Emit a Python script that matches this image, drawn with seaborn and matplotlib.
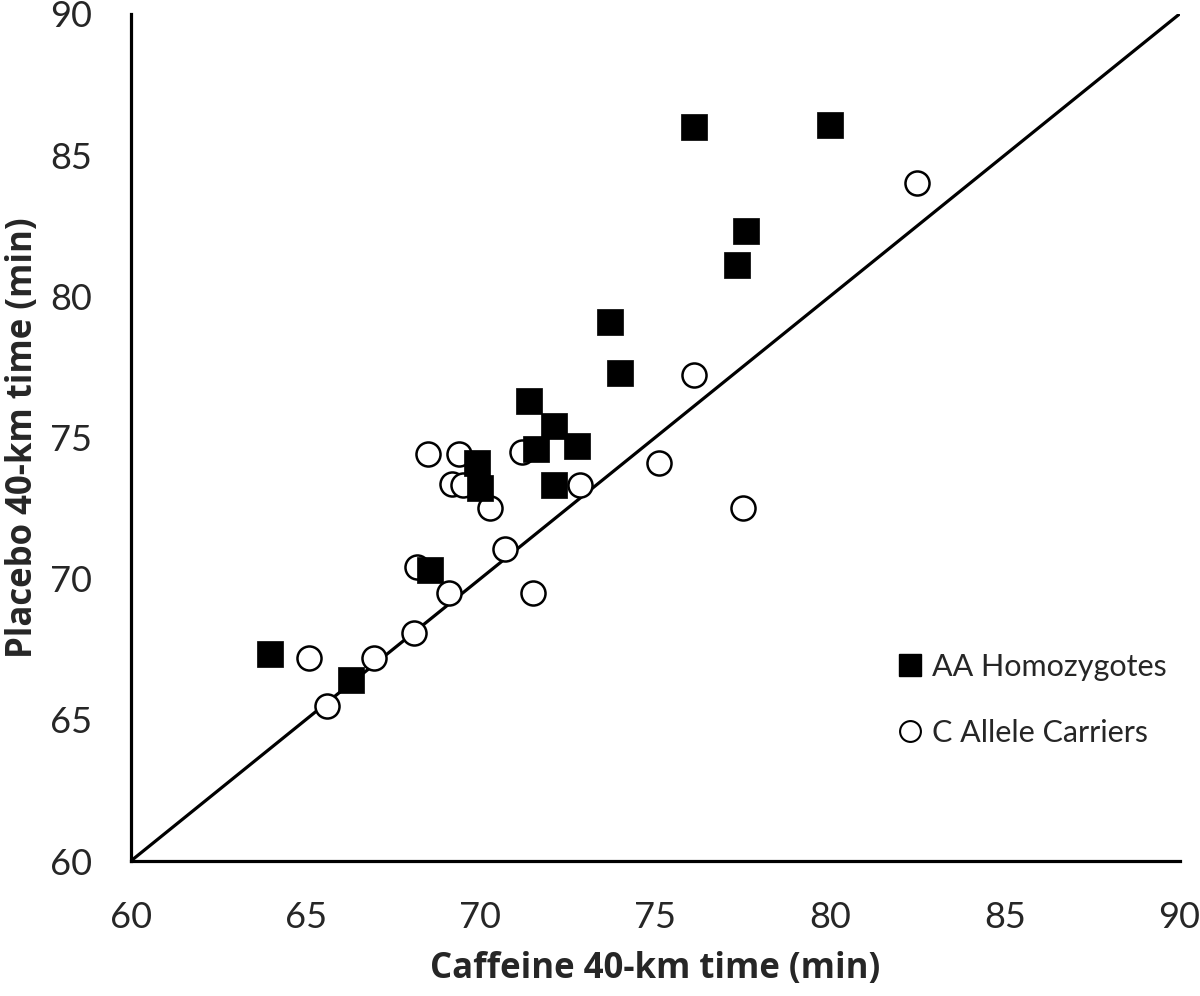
import matplotlib
matplotlib.use("Agg")
import matplotlib.pyplot as plt
import seaborn as sns
import pandas as pd
from matplotlib.lines import Line2D

# AA Homozygotes (filled squares)
aa_caffeine = [63.97, 66.3, 68.55, 69.9, 70.0, 71.4, 72.1, 71.6, 72.75, 72.1,
               74.0, 76.1, 80.0, 77.6, 77.35, 73.7]
aa_placebo = [67.33, 66.4, 70.3, 74.1, 73.2, 76.3, 75.4, 74.6, 74.7, 73.3,
              77.3, 86.0, 86.07, 82.3, 81.1, 79.1]

# C Allele Carriers (open circles)
c_caffeine = [68.5, 69.4, 69.2, 69.5, 70.27, 71.2, 72.84, 70.7, 68.2, 69.1,
              71.5, 68.1, 65.1, 66.95, 65.6, 82.5, 76.1, 75.1, 77.5]
c_placebo = [74.4, 74.4, 73.35, 73.3, 72.5, 74.5, 73.3, 71.05, 70.4, 69.5,
             69.5, 68.07, 67.2, 67.2, 65.5, 84.0, 77.2, 74.1, 72.5]

groups = ["AA Homozygotes", "C Allele Carriers"]
ticks = [60, 65, 70, 75, 80, 85, 90]

df_aa = pd.DataFrame({"caffeine": aa_caffeine, "placebo": aa_placebo})
df_c = pd.DataFrame({"caffeine": c_caffeine, "placebo": c_placebo})

sns.set_theme(style="white")
plt.rcParams["font.family"] = ["Lato", "DejaVu Sans"]

fig = plt.figure(figsize=(12, 9.96), dpi=100)
ax = fig.add_axes([0.109, 0.1355, 0.874, 0.8505])

# identity line
ax.plot([60, 90], [60, 90], color="black", lw=2.3, zorder=1, solid_capstyle="butt")

sns.scatterplot(data=df_c, x="caffeine", y="placebo", ax=ax, marker="o", s=300,
                facecolor="white", edgecolor="black", linewidth=1.8, zorder=2)
sns.scatterplot(data=df_aa, x="caffeine", y="placebo", ax=ax, marker="s", s=370,
                color="black", edgecolor="black", linewidth=0.5, zorder=3)

ax.set_xlim(60, 90)
ax.set_ylim(60, 90)
ax.set_xticks(ticks)
ax.set_yticks(ticks)
ax.set_xticklabels([str(t) for t in ticks], fontsize=26)
ax.set_yticklabels([str(t) for t in ticks], fontsize=26)
ax.tick_params(axis="both", length=0)
ax.tick_params(axis="x", pad=29)
ax.tick_params(axis="y", pad=28)

for side in ["top", "right"]:
    ax.spines[side].set_visible(False)
for side in ["left", "bottom"]:
    ax.spines[side].set_linewidth(2.3)
    ax.spines[side].set_color("black")

ax.set_xlabel("Caffeine 40-km time (min)", fontsize=25, fontweight="bold", labelpad=12,
              family=["Open Sans", "DejaVu Sans"])
ax.set_ylabel("Placebo 40-km time (min)", fontsize=25, fontweight="bold", labelpad=6,
              family=["Open Sans", "DejaVu Sans"])

handles = [
    Line2D([], [], linestyle="none", marker="s", markersize=16.5, markerfacecolor="black",
           markeredgecolor="black"),
    Line2D([], [], linestyle="none", marker="o", markersize=15, markerfacecolor="white",
           markeredgecolor="black", markeredgewidth=1.5),
]
ax.legend(handles, groups, loc="lower right", bbox_to_anchor=(1.005, 0.113), frameon=False,
          fontsize=22, handlelength=0.8, handletextpad=0.3, labelspacing=1.25,
          borderaxespad=0.2)

fig.savefig("out.png", dpi=100)
